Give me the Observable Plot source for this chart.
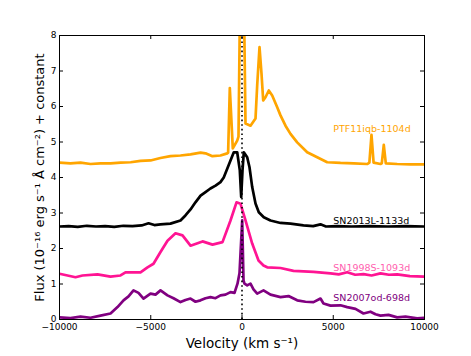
<!DOCTYPE html>
<html>
<head>
<meta charset="utf-8">
<script src="https://cdn.jsdelivr.net/npm/d3@7"></script>
<script src="https://cdn.jsdelivr.net/npm/@observablehq/plot@0.6"></script>
<style>
  html, body { margin: 0; padding: 0; background: white; }
</style>
</head>
<body>
<div id="chart"></div>
<script>
// Velocity (km/s) and flux (+ constant)
const ptfV = [-10000,-9400,-8850,-8300,-7750,-7200,-6650,-6100,-5560,-5010,-4470,-3920,-3370,-2820,-2270,-2000,-1620,-1180,-811,-760,-668,-504,-263,-192,-40,30,192,466,740,833,959,1068,1162,1288,1468,1655,1929,2109,2383,2657,3024,3572,4120,4668,5397,6126,6860,6980,7095,7210,7588,7660,7769,7880,8503,9232,10000];
const ptfF = [4.42,4.40,4.42,4.38,4.40,4.40,4.42,4.43,4.47,4.48,4.55,4.60,4.62,4.65,4.70,4.68,4.60,4.62,4.68,4.70,6.52,4.82,5.04,5.15,12,12,5.52,5.46,5.66,6.6,7.67,6.93,6.17,6.26,6.45,6.31,5.98,5.75,5.46,5.23,4.99,4.71,4.57,4.43,4.41,4.40,4.38,4.42,5.20,4.42,4.38,4.40,4.92,4.40,4.38,4.37,4.37];

const snlV = [-10000,-9500,-9000,-8500,-8000,-7500,-7000,-6500,-6000,-5500,-5120,-4800,-4470,-3920,-3370,-3100,-2820,-2550,-2270,-2000,-1730,-1450,-1180,-1000,-630,-450,-263,-120,-44,27,99,285,411,559,740,920,1194,1561,2109,2657,3370,3900,4300,4600,5200,6000,7000,8000,9000,10000];
const snlF = [2.62,2.63,2.61,2.64,2.62,2.63,2.61,2.64,2.63,2.65,2.71,2.66,2.68,2.70,2.79,2.93,3.10,3.30,3.49,3.59,3.69,3.77,3.87,4.00,4.48,4.71,4.71,4.20,3.45,4.20,4.71,4.57,4.29,3.73,3.27,3.02,2.88,2.79,2.72,2.70,2.65,2.63,2.68,2.62,2.63,2.62,2.63,2.62,2.63,2.62];

const sn98V = [-10000,-9123,-8740,-7917,-7205,-6657,-6383,-5561,-5178,-4849,-4465,-4082,-3644,-3260,-2822,-2164,-1616,-1068,-630,-301,-82,192,559,904,1178,1381,2109,2822,3918,4849,5300,5764,6200,6657,7100,7588,8050,8503,9200,10000];
const sn98F = [1.29,1.19,1.24,1.27,1.21,1.24,1.33,1.33,1.47,1.57,1.90,2.22,2.43,2.37,2.08,2.20,2.11,2.18,2.79,3.30,3.26,2.79,2.14,1.66,1.52,1.47,1.45,1.37,1.34,1.30,1.27,1.33,1.26,1.28,1.24,1.30,1.26,1.27,1.22,1.21];

const sn07V = [-10000,-9397,-8849,-8301,-7753,-7205,-6821,-6492,-6218,-5945,-5671,-5397,-5013,-4739,-4465,-4082,-3753,-3370,-3096,-2822,-2548,-2274,-2000,-1726,-1452,-1178,-904,-630,-411,-247,-137,11,82,137,285,466,630,833,1178,1561,2109,2548,3024,3479,3918,4301,4466,4849,5397,5764,6219,6657,7040,7315,7588,8027,8503,8958,9599,10000];
const sn07F = [0.06,0.04,0.08,0.05,0.11,0.17,0.35,0.54,0.65,0.82,0.75,0.59,0.73,0.70,0.82,0.68,0.60,0.49,0.55,0.59,0.50,0.54,0.60,0.63,0.60,0.68,0.70,0.77,0.75,1.01,1.30,2.79,1.10,1.01,0.96,1.01,0.85,0.73,0.82,0.70,0.63,0.66,0.54,0.50,0.49,0.59,0.45,0.39,0.40,0.35,0.30,0.17,0.22,0.15,0.11,0.13,0.06,0.08,0.03,0.05];

const labelNames = ["PTF11iqb-1104d", "SN2013L-1133d", "SN1998S-1093d", "SN2007od-698d"];
const labelX = [5000, 5000, 5000, 5000];
const labelY = [5.28, 2.70, 1.37, 0.53];
const labelColors = ["#FFA500", "#000000", "#FF5FAF", "#800080"];

const xTicks = [-10000, -5000, 0, 5000, 10000];
const yTicks = [0, 1, 2, 3, 4, 5, 6, 7, 8];

const toRows = (vs, fs) => vs.map((v, i) => ({v, f: fs[i]}));
const ptf = toRows(ptfV, ptfF);
const snl = toRows(snlV, snlF);
const sn98 = toRows(sn98V, sn98F);
const sn07 = toRows(sn07V, sn07F);
const labels = labelNames.map((name, i) => ({name, x: labelX[i], y: labelY[i], color: labelColors[i]}));

const fmt = d3.format("d");

const chart = Plot.plot({
  width: 471,
  height: 356,
  marginLeft: 59,
  marginRight: 47,
  marginTop: 35,
  marginBottom: 37,
  style: {fontFamily: "DejaVu Sans", fontSize: "9px", background: "white", color: "black"},
  x: {domain: [-10000, 10000], label: null},
  y: {domain: [0, 8], label: null},
  marks: [
    Plot.line(ptf, {x: "v", y: "f", stroke: "#FFA500", strokeWidth: 2.7, clip: true}),
    Plot.line(snl, {x: "v", y: "f", stroke: "#000000", strokeWidth: 2.7, clip: true}),
    Plot.line(sn98, {x: "v", y: "f", stroke: "#FF1493", strokeWidth: 2.7, clip: true}),
    Plot.line(sn07, {x: "v", y: "f", stroke: "#800080", strokeWidth: 2.7, clip: true}),
    Plot.ruleX([0], {y1: 0, y2: 8, stroke: "black", strokeWidth: 1.6, strokeDasharray: "1.6,3"}),
    Plot.text(labels, {x: "x", y: "y", text: "name", fill: "color", textAnchor: "start", lineAnchor: "bottom", fontSize: 9.5}),
    Plot.frame({stroke: "black", strokeWidth: 1}),
    Plot.tickX(xTicks, {x: d => d, insetTop: 280, stroke: "black"}),
    Plot.tickX(xTicks, {x: d => d, insetBottom: 280, stroke: "black"}),
    Plot.tickY(yTicks, {y: d => d, insetRight: 361, stroke: "black"}),
    Plot.tickY(yTicks, {y: d => d, insetLeft: 361, stroke: "black"}),
    Plot.axisX(xTicks, {tickSize: 0, tickPadding: 4, tickFormat: fmt, label: null, fontSize: 9}),
    Plot.axisY(yTicks, {tickSize: 0, tickPadding: 3, tickFormat: fmt, label: null, fontSize: 9}),
    Plot.text(["Velocity (km s\u207B\u00B9)"], {text: d => d, frameAnchor: "bottom", dy: 24, lineAnchor: "middle", fontSize: 13.5, fill: "black"}),
    Plot.text(["Flux (10\u207B\u00B9\u2076 erg s\u207B\u00B9 \u00C5 cm\u207B\u00B2) + constant"], {text: d => d, frameAnchor: "left", dx: -20, rotate: -90, textAnchor: "middle", lineAnchor: "middle", fontSize: 13, fill: "black"})
  ]
});
document.getElementById("chart").appendChild(chart);
</script>
</body>
</html>
